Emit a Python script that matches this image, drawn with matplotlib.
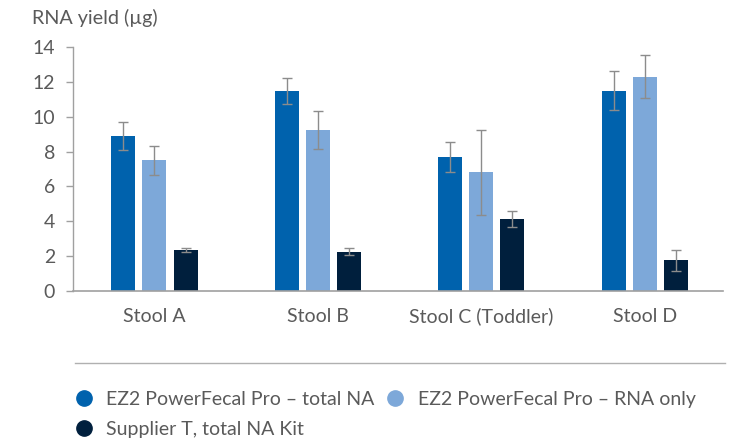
import matplotlib
matplotlib.use("Agg")
import matplotlib.pyplot as plt
from matplotlib.lines import Line2D
import numpy as np

plt.rcParams["font.family"] = ["Lato", "DejaVu Sans"]

samples = ["Stool A", "Stool B", "Stool C (Toddler)", "Stool D"]
series = ["EZ2 PowerFecal Pro \u2013 total NA",
          "EZ2 PowerFecal Pro \u2013 RNA only",
          "Supplier T, total NA Kit"]
total_na = [8.9, 11.5, 7.7, 11.5]
total_na_err = [0.8, 0.75, 0.85, 1.1]
rna_only = [7.5, 9.25, 6.8, 12.3]
rna_only_err = [0.82, 1.1, 2.45, 1.25]
supplier_t = [2.37, 2.25, 4.13, 1.76]
supplier_t_err = [0.12, 0.2, 0.45, 0.62]

colors = ["#0062ad", "#7da8d9", "#001f3d"]
text_col = "#5a5a5a"
axis_col = "#a0a0a0"

fig = plt.figure(figsize=(7.3, 4.42), dpi=100)
ax = fig.add_axes([0.1, 1 - 291 / 442, 0.89, (291 - 47) / 442])

x = np.arange(len(samples))
w = 0.147
off = 0.19
handles = []
for i, (vals, errs) in enumerate([(total_na, total_na_err),
                                  (rna_only, rna_only_err),
                                  (supplier_t, supplier_t_err)]):
    ax.bar(x + (i - 1) * off, vals, w, color=colors[i],
           yerr=errs, error_kw=dict(ecolor="#8c8c8c", elinewidth=1,
                                    capsize=3.5, capthick=1),
           label=series[i], zorder=2)
    handles.append(Line2D([], [], marker="o", ls="", color=colors[i],
                          markersize=11))

ax.set_ylim(0, 14)
ax.set_yticks(range(0, 15, 2))
ax.set_xlim(-0.4985, 3.477)
ax.set_xticks(x)
ax.set_xticklabels(samples)
ax.tick_params(axis="x", length=0, pad=12, labelsize=14, labelcolor=text_col)
ax.tick_params(axis="y", length=5, width=1, color=axis_col, pad=8,
               labelsize=14, labelcolor=text_col)
for s in ["top", "right"]:
    ax.spines[s].set_visible(False)
ax.spines["left"].set_color(axis_col)
ax.spines["bottom"].set_color(axis_col)
ax.spines["left"].set_linewidth(1)
ax.spines["bottom"].set_linewidth(1.2)

fig.text(32 / 730, 1 - 18 / 442, "RNA yield (\u00b5g)", fontsize=14.2,
         color=text_col, va="center", ha="left")

fig.add_artist(Line2D([75 / 730, 725 / 730], [1 - 362.5 / 442, 1 - 362.5 / 442],
                      color="#b0b0b0", lw=1))

order = [0, 2, 1]
fig.legend([handles[k] for k in order], [series[k] for k in order],
           ncol=2, loc="upper left", bbox_to_anchor=(72 / 730, 1 - 391 / 442),
           frameon=False, fontsize=14, labelcolor=text_col,
           handletextpad=0.57, columnspacing=0.45, labelspacing=0.68,
           handlelength=1.2, borderaxespad=0, borderpad=0)

fig.savefig("out.png", dpi=100)
